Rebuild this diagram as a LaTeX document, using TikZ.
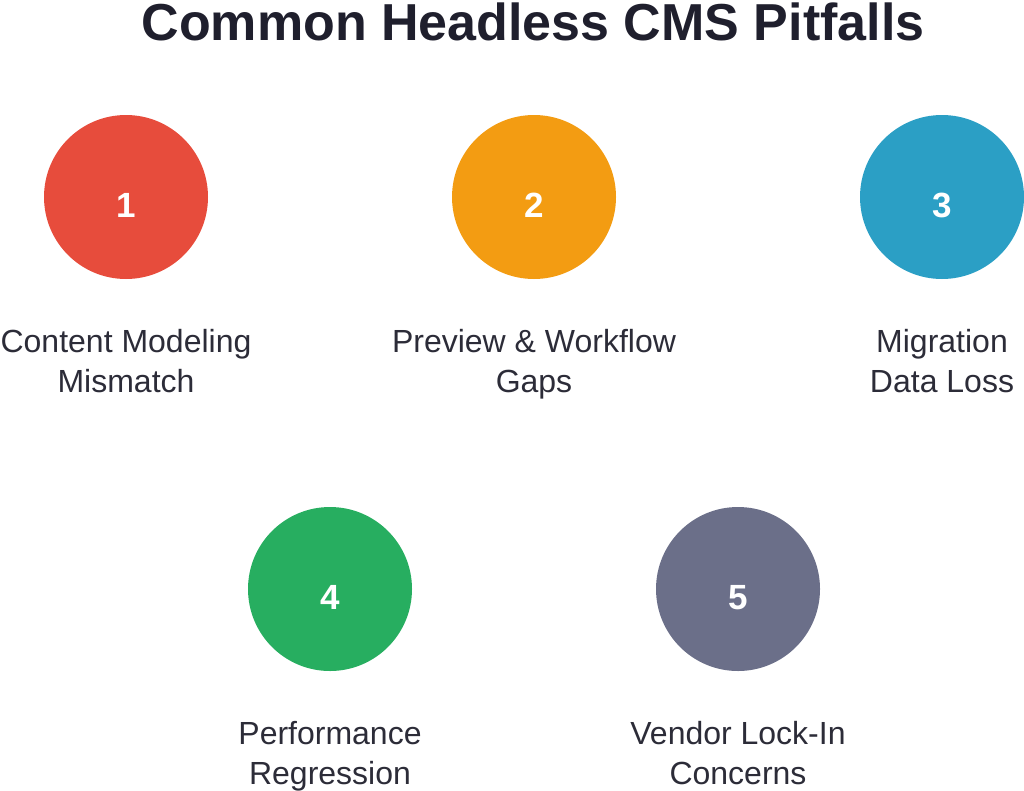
\documentclass[tikz,border=0pt]{standalone}
\usepackage{fontspec}
\setmainfont{Liberation Sans}
\usepackage{xcolor}
\usepackage{tikz}
\usetikzlibrary{positioning}

\definecolor{pitred}{HTML}{E74C3C}
\definecolor{pitorange}{HTML}{F39C12}
\definecolor{pitblue}{HTML}{2B9FC5}
\definecolor{pitgreen}{HTML}{27AE60}
\definecolor{pitslate}{HTML}{6B6F89}
\definecolor{inkdark}{HTML}{1F1F2D}
\definecolor{inktext}{HTML}{2C2C38}

\begin{document}
\begin{tikzpicture}[
  x=1pt, y=-1pt,
  pit/.style={circle, minimum size=164pt, inner sep=0pt,
              text height=40pt, text depth=0pt,
              text=white, font=\fontsize{35}{40}\selectfont\bfseries},
  lbl/.style={align=center, inner sep=0pt, text=inktext,
              font=\fontsize{32}{40}\selectfont},
  title/.style={anchor=base, text=inkdark,
                font=\fontsize{52}{58}\selectfont\bfseries},
  node distance=50pt
]
\useasboundingbox (0,0) rectangle (1024,790);
\node[title] (ttl) at (533,40) {Common Headless CMS Pitfalls};

% top row
\node[pit, fill=pitred]    (p1) at (126,197) {1};
\node[pit, fill=pitorange] (p2) at (534,197) {2};
\node[pit, fill=pitblue]   (p3) at (942,197) {3};
% bottom row
\node[pit, fill=pitgreen]  (p4) at (330,589) {4};
\node[pit, fill=pitslate]  (p5) at (738,589) {5};

\node[lbl] (l1) [below=of p1] {Content Modeling\\Mismatch};
\node[lbl] (l2) [below=of p2] {Preview \& Workflow\\Gaps};
\node[lbl] (l3) [below=of p3] {Migration\\Data Loss};
\node[lbl] (l4) [below=of p4] {Performance\\Regression};
\node[lbl] (l5) [below=of p5] {Vendor Lock-In\\Concerns};
\end{tikzpicture}
\end{document}
